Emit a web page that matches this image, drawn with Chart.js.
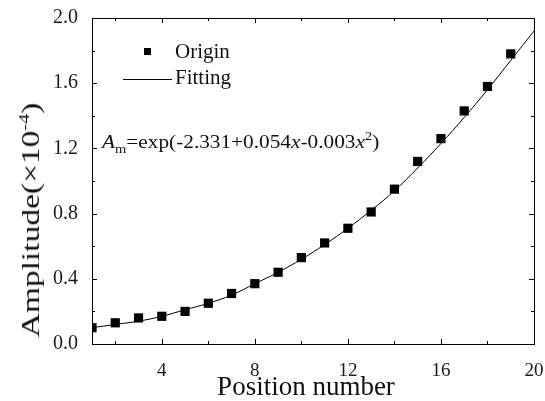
<!DOCTYPE html>
<html>
<head>
<meta charset="utf-8">
<script src="https://cdn.jsdelivr.net/npm/chart.js@4.4.1/dist/chart.umd.min.js"></script>
<style>
  html, body { margin: 0; padding: 0; background: #fff; }
  #wrap { position: relative; width: 545px; height: 401px; overflow: hidden; }
  .txt { position: absolute; font-family: "Liberation Serif", "Times New Roman", serif; color: #111; white-space: nowrap; }
  #legend { left: 120px; top: 38px; font-size: 21px; line-height: 26px; }
  #legend .row { position: relative; height: 26px; padding-left: 55px; }
  #legend .mk { position: absolute; left: 24px; top: 10px; width: 7px; height: 7px; background: #000; }
  #legend .ln { position: absolute; left: 3px; top: 15px; width: 49px; height: 1px; background: #000; }
  #eq { left: 102px; top: 131px; font-size: 19px; transform: scaleX(1.12); transform-origin: 0 50%; }
  #eq sub { font-size: 13px; vertical-align: -5px; line-height: 0; }
  #eq sup { font-size: 13px; vertical-align: 8px; line-height: 0; }
  #xtitle { left: 0; width: 612px; text-align: center; top: 371px; font-size: 27px; line-height: 30px; }
  #ytitle { left: 31px; top: 220px; font-size: 25px; line-height: 28px;
            transform: translate(-50%, -50%) rotate(-90deg) scaleX(1.34); }
  #ytitle sup { font-size: 15px; vertical-align: 10px; line-height: 0; }
</style>
</head>
<body>
<div id="wrap">
  <canvas id="chart" width="545" height="401"></canvas>
  <div id="legend" class="txt"></div>
  <div id="eq" class="txt"><i>A</i><sub>m</sub>=exp(-2.331+0.054<i>x</i>-0.003<i>x</i><sup>2</sup>)</div>
  <div id="xtitle" class="txt">Position number</div>
  <div id="ytitle" class="txt">Amplitude(×10<sup>-4</sup>)</div>
</div>
<script>
// measured points
const positions = [1, 2, 3, 4, 5, 6, 7, 8, 9, 10, 11, 12, 13, 14, 15, 16, 17, 18, 19];
const origin = [0.10, 0.13, 0.16, 0.17, 0.20, 0.25, 0.31, 0.37, 0.44, 0.53, 0.62, 0.71, 0.81, 0.95, 1.12, 1.26, 1.43, 1.58, 1.78];

// fitted curve
const fitX = [1, 2, 3, 4, 5, 6, 7, 8, 9, 10, 11, 12, 13, 14, 15, 16, 17, 18, 19, 20];
const fitting = [0.10, 0.12, 0.14, 0.17, 0.21, 0.25, 0.30, 0.37, 0.44, 0.52, 0.61, 0.71, 0.82, 0.94, 1.08, 1.23, 1.39, 1.56, 1.74, 1.92];

const xMajor = [4, 8, 12, 16, 20];
const xMinor = [2, 6, 10, 14, 18];
const yMajor = [0, 0.4, 0.8, 1.2, 1.6, 2.0];
const yMinor = [0.2, 0.6, 1.0, 1.4, 1.8];

const seriesLabels = ['Origin', 'Fitting'];

const serif = '"Liberation Serif", "Times New Roman", serif';

// frame and inward ticks on all four sides
const frameTicks = {
    id: 'frameTicks',
    afterDraw(chart) {
        const ctx = chart.ctx;
        const a = chart.chartArea;
        const xs = chart.scales.x, ys = chart.scales.y;
        ctx.save();
        ctx.strokeStyle = '#000';
        ctx.lineWidth = 1;
        ctx.strokeRect(Math.round(a.left) + 0.5, Math.round(a.top) + 0.5,
            Math.round(a.right - a.left), Math.round(a.bottom - a.top));
        ctx.beginPath();
        const xt = (vals, len) => vals.forEach(v => {
            const px = Math.round(xs.getPixelForValue(v)) + 0.5;
            ctx.moveTo(px, a.bottom); ctx.lineTo(px, a.bottom - len);
            ctx.moveTo(px, a.top); ctx.lineTo(px, a.top + len);
        });
        const yt = (vals, len) => vals.forEach(v => {
            const py = Math.round(ys.getPixelForValue(v)) + 0.5;
            ctx.moveTo(a.left, py); ctx.lineTo(a.left + len, py);
            ctx.moveTo(a.right, py); ctx.lineTo(a.right - len, py);
        });
        xt(xMajor, 5); xt(xMinor, 3);
        yt(yMajor, 5); yt(yMinor, 3);
        ctx.stroke();
        ctx.restore();
    }
};

const chart = new Chart(document.getElementById('chart'), {
    type: 'scatter',
    data: {
        datasets: [
            {
                label: seriesLabels[0],
                data: positions.map((p, i) => ({ x: p, y: origin[i] })),
                pointStyle: 'rect',
                pointRadius: 6.5,
                backgroundColor: '#000',
                borderColor: '#000',
                borderWidth: 0,
                showLine: false,
                order: 1
            },
            {
                label: seriesLabels[1],
                data: fitX.map((p, i) => ({ x: p, y: fitting[i] })),
                showLine: true,
                borderColor: '#000',
                borderWidth: 1,
                pointRadius: 0,
                tension: 0.4,
                order: 2
            }
        ]
    },
    options: {
        responsive: false,
        animation: false,
        layout: { padding: { top: 18, right: 11, left: 0, bottom: 0 } },
        plugins: { legend: { display: false }, tooltip: { enabled: false } },
        scales: {
            x: {
                type: 'linear',
                min: 1,
                max: 20,
                afterBuildTicks: s => { s.ticks = xMajor.map(v => ({ value: v })); },
                afterFit: s => { s.height = 57; s.paddingRight = 0; s.paddingLeft = 0; },
                grid: { display: false },
                border: { display: false },
                ticks: { color: '#1a1a1a', padding: 8, maxRotation: 0, font: { family: serif, size: 19 } }
            },
            y: {
                type: 'linear',
                min: 0,
                max: 2.0,
                afterBuildTicks: s => { s.ticks = yMajor.map(v => ({ value: v })); },
                afterFit: s => { s.width = 92; s.paddingTop = 0; s.paddingBottom = 0; },
                grid: { display: false },
                border: { display: false },
                ticks: {
                    color: '#1a1a1a',
                    padding: 6,
                    font: { family: serif, size: 20 },
                    callback: v => v.toFixed(1)
                }
            }
        }
    },
    plugins: [frameTicks]
});

// legend inside the plot, built from the datasets
const legend = document.getElementById('legend');
chart.data.datasets.forEach((ds, i) => {
    const row = document.createElement('div');
    row.className = 'row';
    const sw = document.createElement('span');
    sw.className = i === 0 ? 'mk' : 'ln';
    row.appendChild(sw);
    row.appendChild(document.createTextNode(ds.label));
    legend.appendChild(row);
});
</script>
</body>
</html>
